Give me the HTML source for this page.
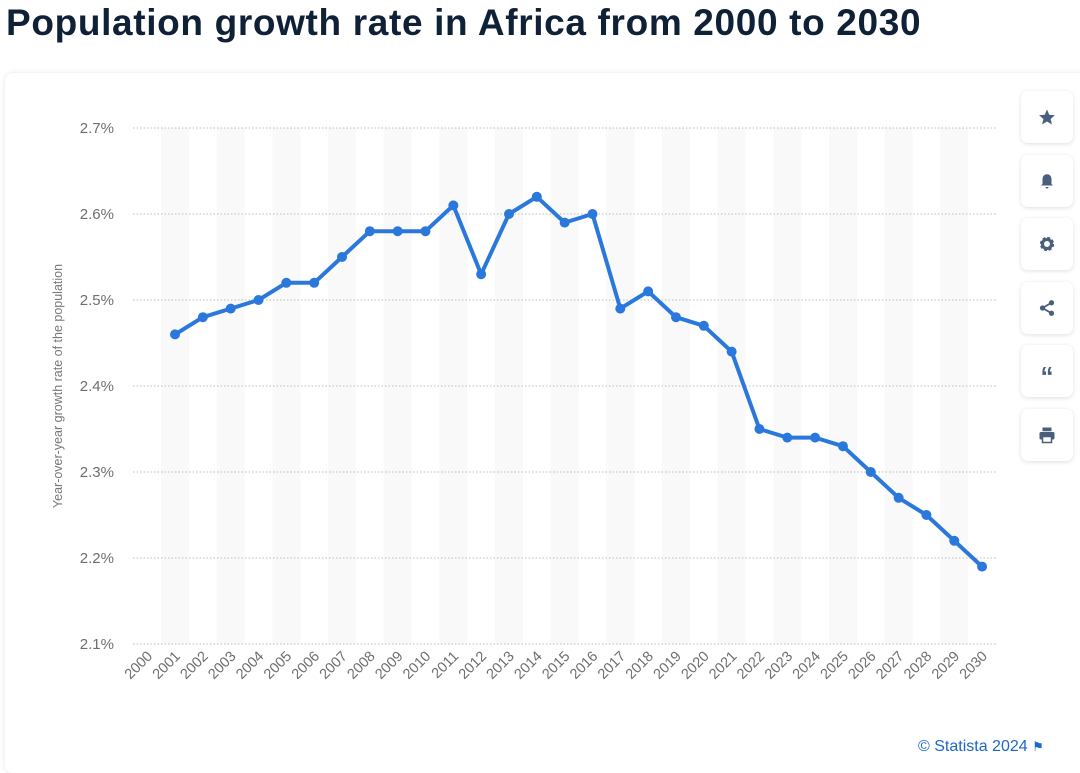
<!DOCTYPE html>
<html><head><meta charset="utf-8"><style>
body{margin:0;width:1080px;height:762px;background:#fff;overflow:hidden;font-family:"Liberation Sans",sans-serif;position:relative}
h1{position:absolute;left:6px;top:2px;margin:0;font-size:37px;font-weight:bold;color:#0f2137;letter-spacing:0.65px;white-space:nowrap}
.card{position:absolute;left:5px;top:73px;width:1090px;height:700px;background:#fff;border-radius:8px;box-shadow:0 0 6px rgba(0,0,0,0.10)}
.btn{position:absolute;left:1021px;width:52px;height:52px;background:#fff;border-radius:7px;box-shadow:0 1px 5px rgba(0,0,0,0.13);display:flex;align-items:center;justify-content:center}
.credit{position:absolute;left:918px;top:738px;font-size:16px;color:#1a66c9}
</style></head><body>
<h1>Population growth rate in Africa from 2000 to 2030</h1>
<div class="card"></div>
<svg id="chart" width="1080" height="762" style="position:absolute;left:0;top:0"></svg>
<div class="btn" style="top:91px"><svg width="18" height="18" viewBox="0 0 24 24"><path d="M12 2l3 7 7.5.6-5.7 5 1.8 7.4L12 18l-6.6 4 1.8-7.4-5.7-5L9 9z" fill="#4a5f7d"/></svg></div>
<div class="btn" style="top:155px"><svg width="18" height="18" viewBox="0 0 24 24"><path d="M12 3c-4 0-6 3-6 7v6l-2 2h16l-2-2v-6c0-4-2-7-6-7zM10 20h4a2 2 0 0 1-4 0z" fill="#4a5f7d"/></svg></div>
<div class="btn" style="top:218px"><svg width="18" height="18" viewBox="0 0 24 24"><circle cx="12" cy="12" r="7" fill="none" stroke="#4a5f7d" stroke-width="5" stroke-dasharray="3.5 2"/><circle cx="12" cy="12" r="6" fill="none" stroke="#4a5f7d" stroke-width="4"/></svg></div>
<div class="btn" style="top:282px"><svg width="18" height="18" viewBox="0 0 24 24"><line x1="6" y1="12" x2="18" y2="5" stroke="#4a5f7d" stroke-width="2.5"/><line x1="6" y1="12" x2="18" y2="19" stroke="#4a5f7d" stroke-width="2.5"/><circle cx="6" cy="12" r="3.5" fill="#4a5f7d"/><circle cx="18" cy="5" r="3.5" fill="#4a5f7d"/><circle cx="18" cy="19" r="3.5" fill="#4a5f7d"/></svg></div>
<div class="btn" style="top:345px"><span style="font-size:26px;font-weight:bold;color:#4a5f7d;margin-top:10px">&#8220;</span></div>
<div class="btn" style="top:409px"><svg width="18" height="18" viewBox="0 0 24 24"><rect x="6" y="2" width="12" height="5" fill="#4a5f7d"/><rect x="2" y="8" width="20" height="10" rx="2" fill="#4a5f7d"/><rect x="6" y="14" width="12" height="8" fill="#fff" stroke="#4a5f7d" stroke-width="2"/></svg></div>
<div class="credit">© Statista 2024 <span style="color:#1a66c9;font-size:13px">&#9873;</span></div>
<script>
const years=[2000,2001,2002,2003,2004,2005,2006,2007,2008,2009,2010,2011,2012,2013,2014,2015,2016,2017,2018,2019,2020,2021,2022,2023,2024,2025,2026,2027,2028,2029,2030];
const rates=[null,2.46,2.48,2.49,2.50,2.52,2.52,2.55,2.58,2.58,2.58,2.61,2.53,2.60,2.62,2.59,2.60,2.49,2.51,2.48,2.47,2.44,2.35,2.34,2.34,2.33,2.30,2.27,2.25,2.22,2.19];
const yTicks=[2.1,2.2,2.3,2.4,2.5,2.6,2.7];
const NS="http://www.w3.org/2000/svg";
const svg=document.getElementById('chart');
const x0=147.2,dx=27.83;
const xs=i=>x0+i*dx;
const ys=v=>644-(v-2.1)/0.6*516;
function el(t,a){const e=document.createElementNS(NS,t);for(const k in a)e.setAttribute(k,a[k]);svg.appendChild(e);return e;}
years.forEach((y,i)=>{if(i%2===1){const r=el('rect',{x:xs(i)-14,y:128,width:28,height:516,fill:'#f9f9f9'});

}});
yTicks.forEach(v=>{const l=el('line',{x1:133,x2:997,y1:ys(v),y2:ys(v),stroke:'#bbb','stroke-width':1,'stroke-dasharray':'1.5 2'});


const t=el('text',{x:114,y:ys(v)+5,'text-anchor':'end','font-size':15,fill:'#6e6e6e','font-family':'Liberation Sans, sans-serif'});t.textContent=v.toFixed(1)+'%';

});
years.forEach((y,i)=>{const cx=xs(i)+6,cy=657;const t=el('text',{x:cx,y:cy,'text-anchor':'end','font-size':14.5,fill:'#6e6e6e','font-family':'Liberation Sans, sans-serif',transform:`rotate(-45 ${cx} ${cy})`});t.textContent=y;

});
const yt=el('text',{x:0,y:0,'text-anchor':'middle','font-size':12.5,fill:'#777','font-family':'Liberation Sans, sans-serif',transform:'translate(62 386) rotate(-90)'});yt.textContent='Year-over-year growth rate of the population';


let d='';rates.forEach((v,i)=>{if(v===null)return;d+=(d?'L':'M')+xs(i)+' '+ys(v);});
const p=el('path',{d:d,fill:'none',stroke:'#2a78dc','stroke-width':4,'stroke-linejoin':'round'});


rates.forEach((v,i)=>{if(v===null)return;const c=el('circle',{cx:xs(i),cy:ys(v),r:5,fill:'#2a78dc'});

});
</script>
</body></html>
